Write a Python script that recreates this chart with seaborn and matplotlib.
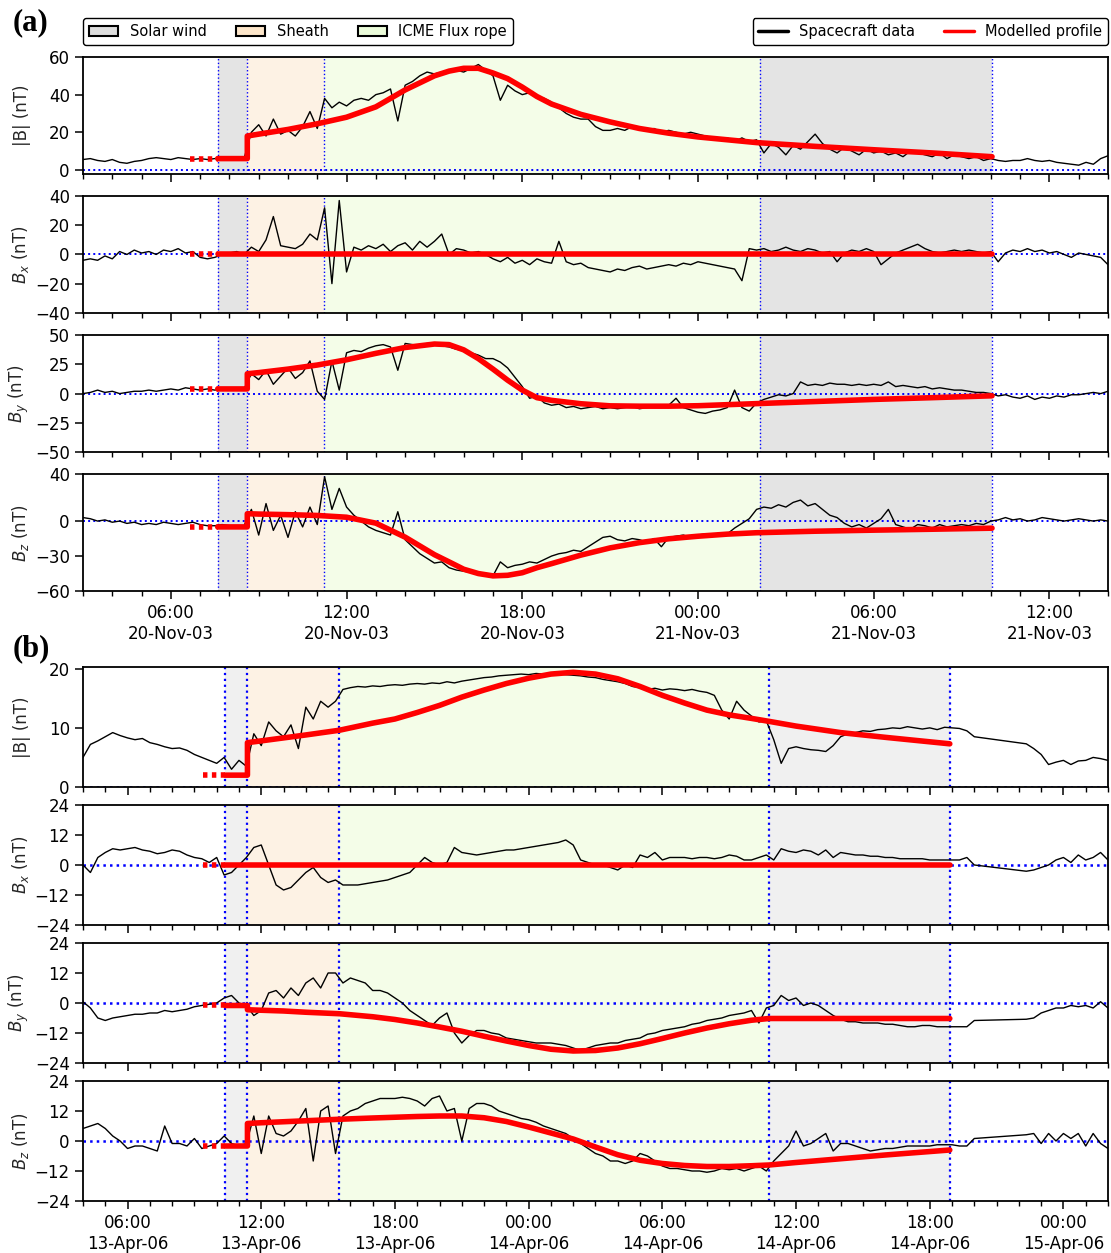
import numpy as np
import pandas as pd
import matplotlib
matplotlib.use("Agg")
import matplotlib.pyplot as plt
import matplotlib.dates as mdates
from matplotlib.patches import Patch
from matplotlib.lines import Line2D
import seaborn as sns

nan = np.nan

# ---------------- event (a): 20-21 Nov 2003, 15 min samples from 03:00 ----------------
a_start = "2003-11-20 03:00"
a_step = "15min"
# hours after 00:00 20-Nov: solar wind start, shock, flux rope start, flux rope end, solar wind end
a_edges = [7.6, 8.61, 11.22, 26.13, 34.04]
a_dot_from = 6.65

a_B = [
    5.5, 6.0, 5.0, 4.5, 5.5, 4.0, 3.5, 4.5,      # 03-05
    5.0, 6.0, 6.5, 6.0, 5.5, 6.5, 6.0, 5.5,      # 05-07
    6.0, 5.5, 6.0, 6.5, 6.0, 6.5, 6.0, 20.0,     # 07-09
    24, 18, 27, 19, 21, 18, 23, 31,              # 09-11
    22, 38, 33, 36, 34, 37, 38, 37,              # 11-13
    40, 41, 43, 26, 45, 47, 50, 52,              # 13-15
    51, 52, 52, 53, 52, 54, 56, 53,              # 15-17
    50, 37, 45, 42, 40, 41, 39, 38,              # 17-19
    36, 33, 30, 28, 27, 27, 23, 21,              # 19-21
    21, 22, 21, 23, 22, 21, 22, 20,              # 21-23
    21, 20, 19, 20, 19, 18, 17, 16,              # 23-01
    17, 15, 17, 15, 16, 9, 14, 12,               # 01-03
    8, 13, 11, 15, 19, 14, 11, 9,                # 03-05
    12, 10, 8, 11, 9, 10, 8, 9,                  # 05-07
    7, 10, 9, 8, 7, 9, 6, 8,                     # 07-09
    7, 6, 7, 5, 6, 5, 4.5, 5,                    # 09-11
    5, 6, 5, 4.5, 5, 4, 3.5, 3,                  # 11-13
    2.5, 4, 3, 6, 7.5,                           # 13-14
]
a_Bx = [
    -4, -3, -4, -1, -3, 2, 0, 3,
    1, 2, 0, 3, 2, 4, 1, 2,
    -2, -3, -2, 0, 1, 2, 0, 5,
    2, 10, 26, 6, 5, 4, 7, 14,
    10, 32, -20, 37, -12, 5, 3, 6,
    4, 7, 2, 6, 8, 3, 9, 5,
    9, 14, 0, 4, 3, 1, 2, 0,
    -3, -5, -2, -6, -4, -7, -3, -5,
    -6, 9, -5, -7, -6, -9, -10, -11,
    -12, -10, -11, -9, -8, -10, -9, -8,
    -7, -8, -6, -7, -5, -6, -7, -8,
    -9, -10, -18, 4, 3, 4, 2, 3,
    5, 3, 2, 4, 3, 1, 2, -5,
    1, 3, 2, 4, 2, -7, -3, 1,
    3, 5, 7, 4, 2, 1, 2, 3,
    2, 3, 2, 1, 2, -5, 1, 3,
    2, 4, 2, 3, 1, 2, 0, -2,
    1, 0, -1, -2, -7,
]
a_By = [
    0, 1, 3, 1, 2, 0, 1, 2,
    2, 3, 2, 3, 4, 3, 5, 4,
    3, 4, 3, 4, 5, 4, 4, 17,
    12, 20, 8, 15, 22, 13, 18, 28,
    2, -5, 28, 3, 35, 37, 36, 39,
    41, 42, 40, 20, 43, 42, 41, 43,
    42, 41, 40, 38, 37, 35, 33, 30,
    30, 27, 22, 14, 6, -4, -2, -8,
    -10, -9, -12, -11, -13, -12, -11, -13,
    -12, -13, -12, -11, -13, -12, -11, -12,
    -10, -4, -12, -14, -16, -17, -15, -14,
    -12, 3, -12, -15, -8, -5, -3, -1,
    -2, 0, 10, 7, 8, 7, 9, 8,
    8, 7, 8, 7, 8, 7, 10, 6,
    7, 6, 5, 6, 4, 5, 4, 3,
    3, 2, 1, 1, 0, -2, -1, -3,
    -4, -2, -5, -3, -4, -2, -3, -1,
    -1, 0, 1, 0, 2,
]
a_Bz = [
    3, 2, 0, 1, -1, 0, -2, -1,
    -3, -2, -3, -1, -2, -3, -2, -1,
    -3, -4, -4, -3, -4, -5, -4, 10,
    -12, 15, -8, 5, -14, 8, -5, 12,
    -3, 38, 10, 28, 12, 5, 0, -5,
    -8, -10, -12, 8, -16, -22, -28, -32,
    -36, -35, -40, -42, -43, -44, -45, -46,
    -47, -35, -40, -38, -37, -35, -36, -33,
    -30, -28, -27, -25, -26, -22, -18, -14,
    -13, -16, -17, -15, -16, -18, -15, -22,
    -14, -13, -12, -14, -12, -11, -12, -10,
    -11, -6, -2, 2, 10, 12, 11, 14,
    12, 16, 18, 13, 15, 10, 5, 3,
    -2, -5, -3, -6, -2, 2, 10, -3,
    -5, -7, -3, -4, -6, -3, -5, -4,
    -3, -4, -2, -3, 0, 1, 3, 1,
    2, 0, 1, 3, 2, 1, 0, 1,
    2, 1, 0, 1, 0,
]

a_model_t = [7.6, 8.61, 8.61, 9, 10, 11, 12, 13, 14, 15, 15.5, 16, 16.5, 17, 17.5,
             18, 18.5, 19, 20, 21, 22, 23, 24, 25, 26, 28, 30, 32, 34.04]
a_model_B = [6, 6, 18, 19, 21.5, 24.5, 28, 33.5, 42.5, 50, 52.5, 54, 54, 51.5, 48.5,
             44, 39, 35, 29.5, 25.5, 22, 19.5, 17.5, 16, 14.5, 12.5, 10.7, 9, 7]
a_model_Bx = [0, 0] + [0.5] * 27
a_model_By = [4, 4, 17, 18, 21, 24.5, 29, 34.5, 39.5, 42.5, 42, 37.5, 30, 21, 11.5,
              3, -3.5, -5.8, -8.7, -10.5, -10.8, -10.8, -10.4, -9.5, -8.6, -6.8, -5, -3.5, -1.9]
a_model_Bz = [-5, -5, 6.3, 6, 5.5, 4.8, 3.3, -1.8, -13.8, -28.8, -35, -41.3, -45, -47, -46.5,
              -44.3, -40, -36.5, -29.2, -23, -18.5, -15.2, -13, -11.2, -10, -8.7, -7.8, -7, -6.1]

# ---------------- event (b): 13-15 Apr 2006, 20 min samples from 04:00 ----------------
b_start = "2006-04-13 04:00"
b_step = "20min"
b_edges = [10.39, 11.38, 15.51, 34.79, 42.9]
b_dot_from = 9.4

b_B = [
    5, 7.2, 7.8, 8.5, 9.2, 8.7, 8.3, 8.0, 8.2,             # 04-07
    7.5, 7.2, 6.8, 6.5, 6.6, 6.2, 5.5, 5.0, 4.5,           # 07-10
    4.0, 5.0, 3.0, 4.5, 3.5, 9.0, 7.0, 11.0, 9.5,          # 10-13
    8.5, 10.5, 6.5, 13.5, 11.5, 14.5, 13.5, 14.5, 16.5,    # 13-16
    16.8, 17.0, 16.9, 17.1, 17.0, 17.2, 17.3, 17.2, 17.4,  # 16-19
    17.5, 17.4, 17.6, 17.5, 17.8, 17.6, 17.9, 18.1, 18.3,  # 19-22
    18.5, 18.6, 18.8, 18.9, 19.0, 19.1, 19.0, 19.2, 19.1,  # 22-01
    19.0, 19.1, 19.0, 18.9, 18.8, 18.6, 18.5, 18.2, 18.0,  # 01-04
    17.8, 17.5, 17.0, 16.8, 16.5, 16.7, 16.4, 16.6, 16.5,  # 04-07
    16.3, 16.5, 16.2, 16.0, 15.5, 13.0, 11.5, 14.5, 13.0,  # 07-10
    12.0, 11.0, 11.2, 8.0, 4.0, 6.5, 6.8, 6.5, 6.3,        # 10-13
    6.2, 6.0, 7.0, 8.5, 9.0, 9.2, 9.5, 9.4, 9.7,           # 13-16
    9.8, 10.0, 9.9, 10.2, 10.0, 9.8, 10.0, 9.7, 10.1,      # 16-19
    10.0, 9.9, 9.5, 8.5, nan, nan, nan, nan, nan,          # 19-22 (data gap)
    nan, 7.3, 6.5, 5.5, 3.8, 4.2, 4.5, 3.8, 4.4,           # 22-01
    4.5, 5.0, 4.8, 4.5,                                    # 01-02
]
b_Bx = [
    0, -3, 3, 5, 6.5, 6, 6.5, 7, 6,
    5.5, 4.5, 5, 6, 5.5, 4, 3, 2.5, 1,
    3, -4, -3, 0, 3, 7, 8, 0, -8,
    -10, -9, -6, -3, -1, -5, -7, -6, -8,
    -8, -8, -7.5, -7, -6.5, -6, -5, -4, -3,
    0, 3, 1, 0, 1, 7, 5, 4.5, 4,
    4.5, 5, 5.5, 6, 6, 6.5, 7, 7.5, 8,
    8.5, 9, 10, 8, 2, 1, 0, 0, -1,
    -2, 0, -1, 4, 3, 5, 2, 3, 3,
    3, 2.5, 3, 3, 2.5, 3, 4, 3.5, 2,
    2, 3, 4, 2, 6.5, 5.5, 5, 6, 5.5,
    4, 6, 3, 5, 4.5, 4, 4, 3.5, 3.5,
    3, 3, 2.5, 2.5, 2.5, 2.5, 2, 2, 2,
    2, 2, 3, 0, nan, nan, nan, nan, nan,
    nan, -2.5, -2, -1, 0, 2, 3, 1, 4,
    2, 3, 5, 2,
]
b_By = [
    0.5, -2, -6, -7, -6, -5.5, -5, -4.5, -4.5,
    -4, -4, -3, -3.5, -3, -2.5, -1.5, -1, -0.5,
    0, 2, 3, 0, -1, -5, -3, 4, 5,
    2, 6, 3, 8, 10, 6, 12, 12, 8,
    10, 9, 8, 5, 5, 4, 2, 0, -3,
    -5, -7, -9, -6, -4, -12, -16, -13, -11,
    -11, -12, -12.5, -14, -14.5, -15, -15.5, -16, -16,
    -16, -16.5, -17, -18, -19, -18, -17, -16.5, -16,
    -16, -15, -14.5, -14, -12.5, -12, -11, -10.5, -10,
    -9.5, -8.5, -8, -7, -6.5, -6, -5, -4.5, -4,
    -3, -8, -2, -1, 3, 1, 2, -1, 0,
    -1, -3, -5, -6.5, -7.5, -7.5, -8, -8, -8,
    -8.5, -8.5, -9, -9.5, -9.5, -9, -9, -9.5, -9.5,
    -9.5, -9.5, -9.5, -7, nan, nan, nan, nan, nan,
    nan, -6.5, -6, -4, -3, -2, -2, -1, -1.5,
    -1, -2, 0.5, -2,
]
b_Bz = [
    5, 6, 7, 5, 2, 0, -3, -2, -2,
    -3, -4, 6, -1, -1, -2, 1, -3, -2,
    -1, 2, -1, -2, -1, 10, -5, 10, 3,
    2, 4, 8, 13, -8, 12, 14, -5, 10,
    12, 13, 15, 16, 17, 17, 17, 17.5, 17,
    16, 14, 17, 18, 12, 13, 0, 13, 15,
    15, 14, 12, 11, 10, 9, 8.5, 7.5, 6,
    5, 4, 3, 1, -1, -3, -5, -6, -8,
    -8, -9, -8, -5, -6, -8, -10, -11, -11,
    -11.5, -12, -12, -12.5, -12, -11, -11.5, -11, -12,
    -11, -10, -12, -8, -5, -2, 4, -2, -1,
    1, 3, -4, -1, -1, -2, -3, -4, -3.5,
    -3, -3, -2.5, -2, -2, -2, -2, -1.5, -1.5,
    -1.5, -2, -2, 1, nan, nan, nan, nan, nan,
    nan, 2.5, 3, -1, 3, 0, 3, 1, 3,
    -2, 3, -1, -3,
]

b_model_t = [10.39, 11.38, 11.38, 12, 13, 14, 15.51, 17, 18, 19, 20, 21, 22, 23, 24, 25,
             26, 27, 28, 29, 30, 31, 32, 33, 34, 34.79, 36, 38, 40, 42.9]
b_model_B = [2, 2, 7.5, 7.8, 8.3, 8.8, 9.6, 10.8, 11.5, 12.6, 13.8, 15.2, 16.4, 17.5, 18.4, 19.1,
             19.4, 19.1, 18.3, 17, 15.5, 14.2, 13, 12.2, 11.6, 11.1, 10.3, 9.2, 8.4, 7.3]
b_model_Bx = [0] * 30
b_model_By = [-1, -1, -2.7, -2.9, -3.2, -3.7, -4.3, -5.5, -6.6, -8, -9.6, -11.3, -13.3, -15.2, -17, -18.5,
              -19.2, -19, -18, -16.3, -14.2, -12, -10, -8.3, -6.9, -6.2, -6.2, -6.2, -6.2, -6.2]
b_model_Bz = [-2, -2, 7, 7.3, 7.7, 8.1, 8.7, 9.2, 9.5, 9.8, 10, 10, 9.3, 7.8, 5.6, 3.2,
              0.8, -2.4, -5.5, -7.7, -9, -9.8, -10.2, -10.2, -9.9, -9.6, -8.6, -7.1, -5.6, -3.6]

LABELS = ["|B| (nT)", r"$B_x$ (nT)", r"$B_y$ (nT)", r"$B_z$ (nT)"]
SHEATH = "#fdf2e4"
ROPE = "#f4fde8"


def draw_panel(axes, start, step, edges, dot_from, data, model_t, models,
               ylims, yticks, sw_color, vlw, hlw, xlim) -> None:
    day0 = pd.Timestamp(start).normalize()
    edge_t = [day0 + pd.Timedelta(hours=h) for h in edges]
    mt = day0 + pd.to_timedelta(model_t, unit="h")
    for ax, label, vals, mvals, ylim, ticks in zip(axes, LABELS, data, models, ylims, yticks):
        ax.axvspan(edge_t[0], edge_t[1], color=sw_color, lw=0, zorder=0)
        ax.axvspan(edge_t[1], edge_t[2], color=SHEATH, lw=0, zorder=0)
        ax.axvspan(edge_t[2], edge_t[3], color=ROPE, lw=0, zorder=0)
        ax.axvspan(edge_t[3], edge_t[4], color=sw_color, lw=0, zorder=0)
        for x in edge_t:
            ax.axvline(x, color="blue", ls=":", lw=vlw, zorder=1)
        ax.axhline(0, color="blue", ls=":", lw=hlw, zorder=1)

        obs = pd.DataFrame({"time": pd.date_range(start, periods=len(vals), freq=step),
                            "value": vals}).dropna()
        sns.lineplot(data=obs, x="time", y="value", ax=ax, color="black",
                     linewidth=1, estimator=None, sort=False, zorder=2)

        mod = pd.DataFrame({"time": mt, "value": mvals})
        sns.lineplot(data=mod, x="time", y="value", ax=ax, color="red",
                     linewidth=4, estimator=None, sort=False, zorder=3)
        ext = pd.DataFrame({"time": [day0 + pd.Timedelta(hours=dot_from), edge_t[0]],
                            "value": [mvals[0], mvals[0]]})
        sns.lineplot(data=ext, x="time", y="value", ax=ax, color="red",
                     linewidth=4, linestyle=(0, (0.8, 0.8)), estimator=None, sort=False, zorder=3)

        ax.set_ylim(*ylim)
        ax.set_yticks(ticks)
        ax.set_ylabel(label, fontsize=12)
        ax.yaxis.set_label_coords(-0.051, 0.5)
        ax.set_xlabel("")
        ax.set_xlim(pd.Timestamp(xlim[0]), pd.Timestamp(xlim[1]))
        ax.xaxis.set_major_locator(mdates.HourLocator(byhour=[0, 6, 12, 18]))
        ax.xaxis.set_minor_locator(mdates.HourLocator())
        ax.xaxis.set_major_formatter(mdates.DateFormatter("%H:%M\n%d-%b-%y"))
        ax.tick_params(which="major", length=6, width=1.1, labelsize=12)
        ax.tick_params(which="minor", length=3.5, width=1)
    for ax in axes[:-1]:
        ax.tick_params(labelbottom=False)


if __name__ == "__main__":
    sns.set_style("ticks", {"axes.edgecolor": "black", "xtick.color": "black",
                            "ytick.color": "black", "text.color": "black"})
    plt.rcParams["font.family"] = ["DejaVu Sans"]
    plt.rcParams["axes.linewidth"] = 1.3

    fig = plt.figure(figsize=(11.11, 12.53), dpi=100)
    gs_a = fig.add_gridspec(4, 1, left=0.0747, right=0.9973, top=0.9545, bottom=0.5283, hspace=0.193)
    gs_b = fig.add_gridspec(4, 1, left=0.0747, right=0.9973, top=0.4677, bottom=0.0415, hspace=0.15)
    axes_a = [fig.add_subplot(gs_a[0])]
    axes_a += [fig.add_subplot(gs_a[i], sharex=axes_a[0]) for i in range(1, 4)]
    axes_b = [fig.add_subplot(gs_b[0])]
    axes_b += [fig.add_subplot(gs_b[i], sharex=axes_b[0]) for i in range(1, 4)]

    draw_panel(axes_a, a_start, a_step, a_edges, a_dot_from,
               [a_B, a_Bx, a_By, a_Bz], a_model_t,
               [a_model_B, a_model_Bx, a_model_By, a_model_Bz],
               [(-2, 60), (-40, 40), (-50, 50), (-60, 40)],
               [[0, 20, 40, 60], [-40, -20, 0, 20, 40], [-50, -25, 0, 25, 50], [-60, -30, 0, 40]],
               "#e4e4e4", 1.0, 1.4, ("2003-11-20 03:00", "2003-11-21 14:00"))
    draw_panel(axes_b, b_start, b_step, b_edges, b_dot_from,
               [b_B, b_Bx, b_By, b_Bz], b_model_t,
               [b_model_B, b_model_Bx, b_model_By, b_model_Bz],
               [(0, 20.3), (-24, 24), (-24, 24), (-24, 24)],
               [[0, 10, 20], [-24, -12, 0, 12, 24], [-24, -12, 0, 12, 24], [-24, -12, 0, 12, 24]],
               "#f0f0f0", 1.6, 1.8, ("2006-04-13 04:00", "2006-04-15 02:00"))

    regions = [Patch(facecolor="#dedede", edgecolor="black", lw=1.5, label="Solar wind"),
               Patch(facecolor="#fde6ca", edgecolor="black", lw=1.5, label="Sheath"),
               Patch(facecolor="#ebfcda", edgecolor="black", lw=1.5, label="ICME Flux rope")]
    curves = [Line2D([], [], color="black", lw=2.5, label="Spacecraft data"),
              Line2D([], [], color="red", lw=2.5, label="Modelled profile")]
    top = axes_a[0]
    leg1 = top.legend(handles=regions, loc="lower left", bbox_to_anchor=(0, 1.103), ncol=3,
                      fontsize=10.5, borderaxespad=0, framealpha=1, edgecolor="black")
    top.add_artist(leg1)
    top.legend(handles=curves, loc="lower right", bbox_to_anchor=(1, 1.103), ncol=2,
               fontsize=10.5, borderaxespad=0, framealpha=1, edgecolor="black")

    fig.text(13 / 1111, 1 - 8 / 1253, "(a)", fontsize=22, fontweight="bold",
             family=["Liberation Serif", "DejaVu Serif"], va="top", ha="left")
    fig.text(13 / 1111, 1 - 634 / 1253, "(b)", fontsize=22, fontweight="bold",
             family=["Liberation Serif", "DejaVu Serif"], va="top", ha="left")

    plt.savefig("out.png", dpi=100)
